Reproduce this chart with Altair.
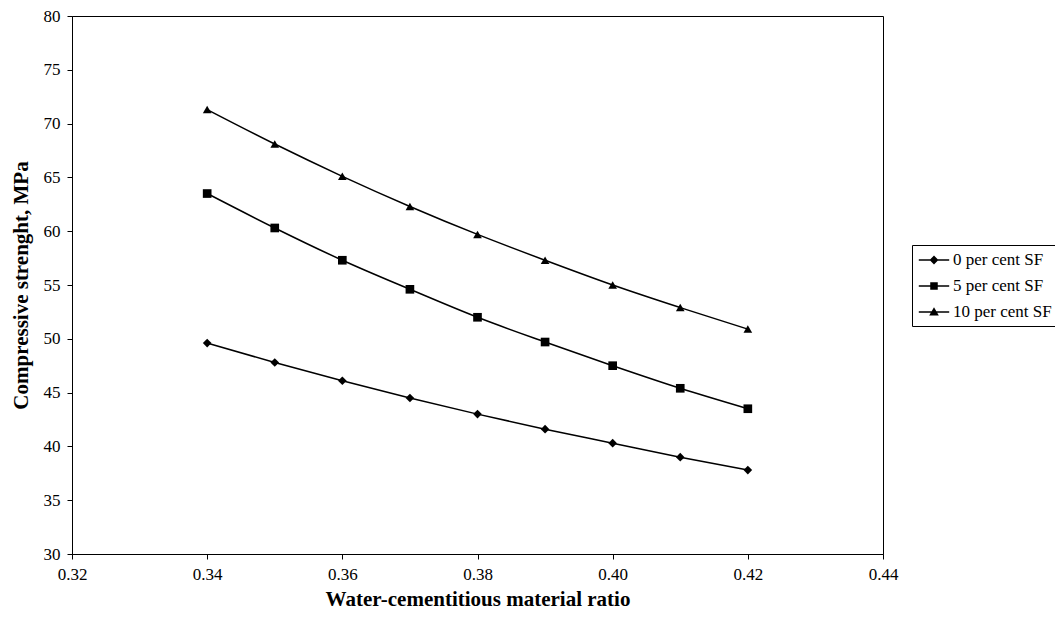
import altair as alt
import pandas as pd

ratios = [0.34, 0.35, 0.36, 0.37, 0.38, 0.39, 0.40, 0.41, 0.42]
sf0 = [49.6, 47.8, 46.1, 44.5, 43.0, 41.6, 40.3, 39.0, 37.8]
sf5 = [63.5, 60.3, 57.3, 54.6, 52.0, 49.7, 47.5, 45.4, 43.5]
sf10 = [71.3, 68.1, 65.1, 62.3, 59.7, 57.3, 55.0, 52.9, 50.9]
series_names = ["0 per cent SF", "5 per cent SF", "10 per cent SF"]

rows = []
for name, vals in zip(series_names, [sf0, sf5, sf10]):
    for r, v in zip(ratios, vals):
        rows.append({"ratio": r, "strength": v, "series": name})
df = pd.DataFrame(rows)

FONT = "Liberation Serif"
LABEL_SIZE = 17
TITLE_SIZE = 21

x_enc = alt.X("ratio:Q", title="Water-cementitious material ratio",
              scale=alt.Scale(domain=[0.32, 0.44], nice=False, zero=False),
              axis=alt.Axis(values=[0.32, 0.34, 0.36, 0.38, 0.40, 0.42, 0.44], format=".2f",
                            grid=False, titlePadding=6, labelPadding=7, labelFlush=False,
                            labelFont=FONT, labelFontSize=LABEL_SIZE, labelColor="black",
                            titleFont=FONT, titleFontSize=TITLE_SIZE, titleFontWeight="bold",
                            titleColor="black"))
y_enc = alt.Y("strength:Q", title="Compressive strenght, MPa",
              scale=alt.Scale(domain=[30, 80], nice=False, zero=False),
              axis=alt.Axis(values=list(range(30, 81, 5)), grid=False,
                            titlePadding=12, labelPadding=7, labelFlush=False,
                            labelFont=FONT, labelFontSize=LABEL_SIZE, labelColor="black",
                            titleFont=FONT, titleFontSize=TITLE_SIZE, titleFontWeight="bold",
                            titleColor="black"))

base = alt.Chart(df)

lines = base.mark_line(interpolate="monotone", color="black", strokeWidth=1.5).encode(
    x=x_enc, y=y_enc, detail="series:N"
)

points = base.mark_point(filled=True, color="black", size=75, opacity=1).encode(
    x=x_enc, y=y_enc,
    shape=alt.Shape("series:N",
                    scale=alt.Scale(domain=series_names, range=["diamond", "square", "triangle-up"]),
                    legend=None)
)

legend_paths = [
    "M-1.9,-0.09H1.9V0.09H-1.9ZM0,-0.55L0.55,0L0,0.55L-0.55,0Z",
    "M-1.9,-0.09H1.9V0.09H-1.9ZM-0.47,-0.47H0.47V0.47H-0.47Z",
    "M-1.9,-0.09H1.9V0.09H-1.9ZM0,-0.6L0.6,0.45L-0.6,0.45Z",
]

legend_layer = base.transform_filter("datum.ratio < 0").transform_calculate(
    series2="datum.series"
).mark_point(
    filled=True, color="black", size=256, opacity=1
).encode(
    x=x_enc, y=y_enc,
    shape=alt.Shape("series2:N",
                    scale=alt.Scale(domain=series_names, range=legend_paths),
                    legend=alt.Legend(title=None, orient="none", legendX=840, legendY=229,
                                      strokeColor="black", padding=6, rowPadding=9,
                                      labelFont=FONT, labelFontSize=LABEL_SIZE, labelColor="black",
                                      labelOffset=10, symbolOffset=7, symbolSize=256,
                                      symbolFillColor="black", symbolOpacity=1,
                                      fillColor="white"))
)

chart = alt.layer(lines, points, legend_layer).resolve_scale(
    shape="independent"
).resolve_legend(shape="independent").properties(
    width=811, height=538,
    autosize=alt.AutoSizeParams(type="none"),
    padding={"left": 64, "top": 8, "right": 172, "bottom": 63},
    background="white",
).configure_view(
    stroke="black", strokeWidth=1
).configure_axis(
    domainColor="black", domainWidth=1, tickColor="black", tickSize=5, tickWidth=1,
)

chart.save("out.html", embed_options={"renderer": "svg", "actions": False})
